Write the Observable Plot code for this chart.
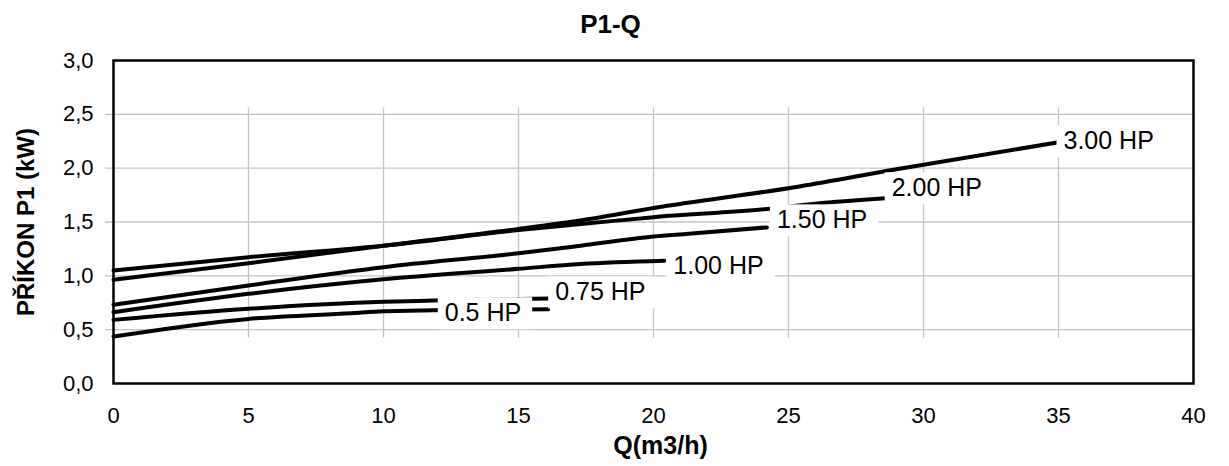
<!DOCTYPE html>
<html><head><meta charset="utf-8">
<script src="https://cdn.jsdelivr.net/npm/d3@7"></script>
<script src="https://cdn.jsdelivr.net/npm/@observablehq/plot@0.6"></script>
<style>
body{margin:0;background:#fff;font-family:"Liberation Sans",Arial,sans-serif;}
#title{height:36px;padding-top:4px;line-height:40px;text-align:center;font-weight:bold;font-size:26px;color:#000;padding-right:8px;}
</style></head><body>
<div id="title">P1-Q</div>
<div id="chart"></div>
<script>
// ---- data ----
const seriesNames = ["0.5 HP", "0.75 HP", "1.00 HP", "1.50 HP", "2.00 HP", "3.00 HP"];
const q_05  = [0, 5, 8.8, 10, 11.85, 16.1];
const p_05  = [0.436, 0.60, 0.653, 0.67, 0.68, 0.69];
const q_075 = [0, 5, 10, 11.85, 16.1];
const p_075 = [0.591, 0.694, 0.76, 0.77, 0.79];
const q_100 = [0, 5, 10, 15, 17.3, 20.4];
const p_100 = [0.662, 0.833, 0.968, 1.065, 1.11, 1.14];
const q_150 = [0, 5, 10, 15, 17.3, 20, 21.3, 24.2];
const p_150 = [0.731, 0.91, 1.08, 1.21, 1.28, 1.365, 1.39, 1.45];
const q_200 = [0, 5, 10, 15, 17.7, 20, 24.2, 26, 28.6];
const p_200 = [1.049, 1.173, 1.28, 1.425, 1.49, 1.545, 1.62, 1.67, 1.72];
const q_300 = [0, 5, 10, 15, 17.7, 20, 25.4, 29, 35];
const p_300 = [0.963, 1.117, 1.28, 1.435, 1.53, 1.63, 1.83, 1.99, 2.24];
const xTicks = [0, 5, 10, 15, 20, 25, 30, 35, 40];
const yTicks = [0, 0.5, 1.0, 1.5, 2.0, 2.5, 3.0];
const xGrid = [5, 10, 15, 20, 25, 30, 35];
const yGrid = [0.5, 1.0, 1.5, 2.0, 2.5];
const titleText = "P1-Q";
const xLabel = "Q(m3/h)";
const yLabel = "PŘÍKON P1 (kW)";

// ---- build table ----
const qs = [q_05, q_075, q_100, q_150, q_200, q_300];
const ps = [p_05, p_075, p_100, p_150, p_200, p_300];
const rows = seriesNames.flatMap((s, k) => qs[k].map((q, i) => ({s, q, p: ps[k][i]})));
const ends = seriesNames.map((s, k) => ({s, q: qs[k][qs[k].length - 1], p: ps[k][ps[k].length - 1]}));

// label placement relative to each curve end (layout, not data)
const labelLayout = {
  "3.00 HP": {anchor: "start", dx: 5, dy: -1},
  "2.00 HP": {anchor: "start", dx: 6, dy: -10},
  "1.50 HP": {anchor: "start", dx: 10, dy: -7},
  "1.00 HP": {anchor: "start", dx: 9, dy: 5},
  "0.75 HP": {anchor: "start", dx: 7, dy: -6},
  "0.5 HP":  {anchor: "end", dx: -27, dy: 4}
};

const fmt = d => d.toFixed(1).replace(".", ",");

const labelMarks = ends.map(e => Plot.text([e], {
  x: "q", y: "p", text: "s",
  textAnchor: labelLayout[e.s].anchor,
  dx: labelLayout[e.s].dx, dy: labelLayout[e.s].dy,
  fontSize: 25, fill: "black"
}));

const chart = Plot.plot({
  width: 1229,
  height: 426,
  marginTop: 20,
  marginBottom: 83,
  marginLeft: 113,
  marginRight: 36,
  style: {fontFamily: "'Liberation Sans', Arial, sans-serif", fontSize: "22px", color: "black", background: "white"},
  x: {domain: [0, 40]},
  y: {domain: [0, 3]},
  marks: [
    Plot.ruleY(yGrid, {x1: -0.3, x2: 40, stroke: "#c4c4c4", strokeWidth: 1.3}),
    Plot.ruleX(xGrid, {y1: 0.42, y2: 2.56, stroke: "#c4c4c4", strokeWidth: 1.3}),
    Plot.frame({stroke: "black", strokeWidth: 2.5}),
    Plot.axisX(xTicks, {tickSize: 0, tickPadding: 24, tickFormat: d => String(d), label: null, fontSize: 22}),
    Plot.axisY(yTicks, {tickSize: 0, tickPadding: 20, tickFormat: fmt, label: null, fontSize: 22}),
    Plot.line(rows, {x: "q", y: "p", z: "s", stroke: "black", strokeWidth: 4, curve: "monotone-x"}),
    ...labelMarks,
    Plot.text([xLabel], {frameAnchor: "bottom", lineAnchor: "middle", dx: 7, dy: 62, fontSize: 25, fontWeight: "bold", fill: "black"}),
    Plot.text([yLabel], {frameAnchor: "left", textAnchor: "middle", lineAnchor: "middle", rotate: -90, dx: -87, fontSize: 24, fontWeight: "bold", fill: "black"})
  ]
});
document.getElementById("chart").appendChild(chart);

// white boxes behind the curve labels (sized from the rendered text)
const padL = 7, padR = 11, padT = 1, padB = 3;
Array.from(chart.querySelectorAll("text"))
  .filter(t => seriesNames.includes(t.textContent.trim()))
  .forEach(t => {
    const b = t.getBBox();
    const r = document.createElementNS("http://www.w3.org/2000/svg", "rect");
    r.setAttribute("x", b.x - padL);
    r.setAttribute("y", b.y - padT);
    r.setAttribute("width", b.width + padL + padR);
    r.setAttribute("height", b.height + padT + padB);
    r.setAttribute("fill", "white");
    r.setAttribute("stroke", "none");
    const tr = t.getAttribute("transform");
    if (tr) r.setAttribute("transform", tr);
    t.parentNode.insertBefore(r, t);
  });
</script>
</body></html>
